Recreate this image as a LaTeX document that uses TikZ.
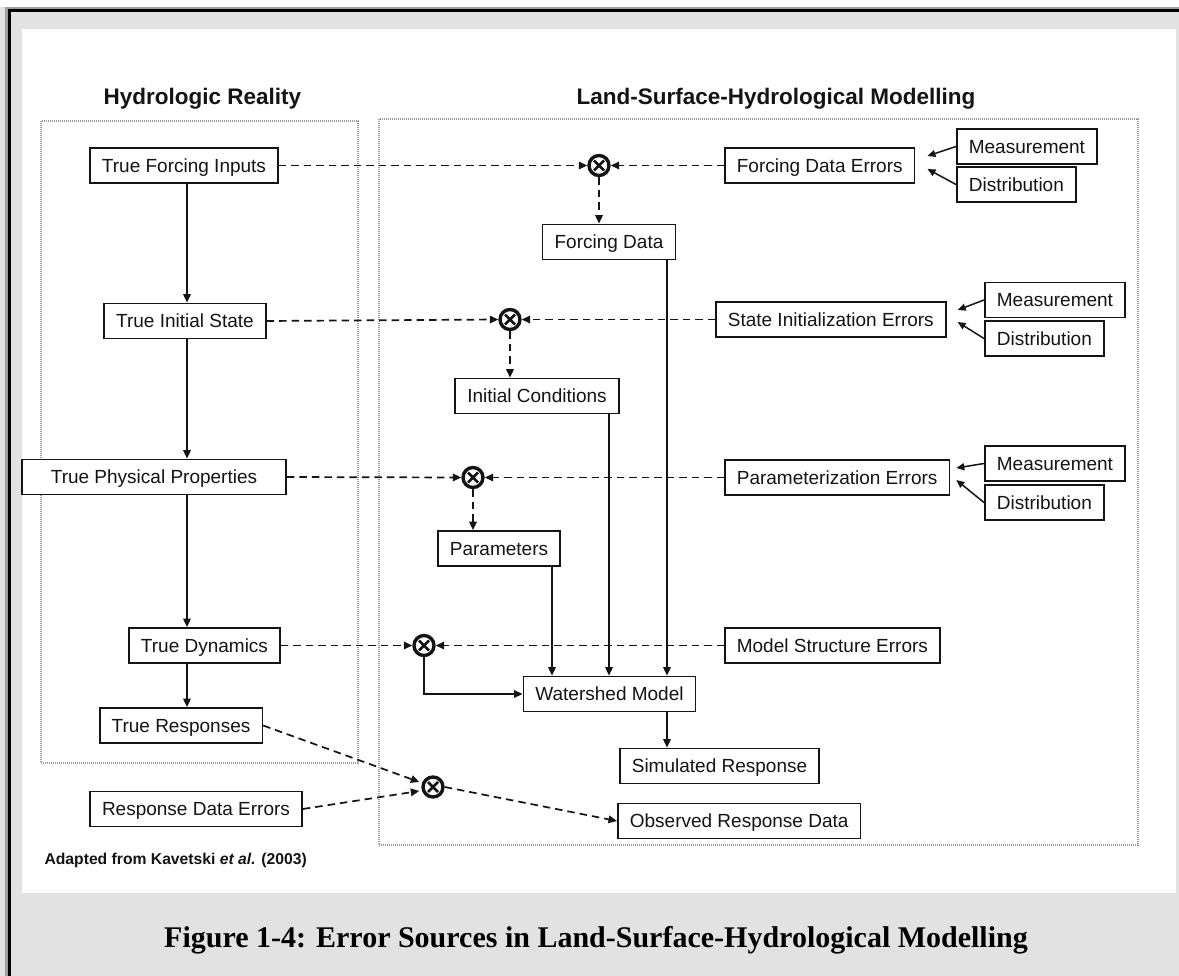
\documentclass[tikz,border=0pt]{standalone}
\usepackage{fontspec}
\setmainfont{Liberation Sans}
\newfontfamily\capfont{Liberation Serif}
\usetikzlibrary{arrows.meta,calc}
\definecolor{bggray}{HTML}{E2E2E2}
\definecolor{ink}{HTML}{141414}
\definecolor{framegray}{HTML}{9A9A9A}
\begin{document}
\begin{tikzpicture}[x=1pt,y=-1pt,
  box/.style={draw=ink, line width=1.7pt, fill=white, font=\fontsize{19}{22}\selectfont, text=ink,
    inner xsep=12pt, inner ysep=0pt, minimum height=35pt, text height=13.6pt, text depth=0pt},
  xcirc/.style={circle, draw=ink, line width=3.4pt, minimum size=20pt, inner sep=0pt, fill=white},
  tip/.style={-{Triangle[length=8.5pt,width=7.5pt]}},
  dline/.style={draw=ink, line width=1.7pt, dash pattern=on 7.5pt off 5pt, tip},
  sline/.style={draw=ink, line width=1.7pt, tip},
  mline/.style={draw=ink, line width=1.5pt, -{Triangle[length=8pt,width=7pt]}},
  region/.style={draw=framegray, line width=1.1pt, dash pattern=on 1pt off 1pt},
  title/.style={font=\bfseries\fontsize{22.5}{26}\selectfont, text=ink}
]
\useasboundingbox (0,0) rectangle (1179,976);
% page background and frame
\fill[bggray] (0,0) rectangle (1179,976);
\fill[white] (0,0) rectangle (1179,7);
\fill[gray!75] (5,7) rectangle (1179,9);
\fill[black] (8,9) rectangle (1179,12);
\fill[gray!75] (5,7) rectangle (8,976);
\fill[black] (8,9) rectangle (11,976);
\fill[white] (22,29) rectangle (1176,893);

% titles
\node[title, anchor=base west] (t1) at (100,105) {Hydrologic Reality};
\node[title, anchor=base west] (t2) at (573,105) {Land-Surface-Hydrological Modelling};

% regions
\draw[region] (41,121) rectangle (358,763);
\draw[region] (379,119) rectangle (1138,845);

% left column
\node[box] (tfi) at (184,165.5) {True Forcing Inputs};
\node[box] (tis) at (185,321) {True Initial State};
\node[box, minimum width=264pt] (tpp) at (154,477) {True Physical Properties};
\node[box] (tdy) at (204.5,645.5) {True Dynamics};
\node[box] (tre) at (181,725.5) {True Responses};
\node[box] (rde) at (196,809) {Response Data Errors};

% error sources
\node[box, anchor=west] (fde) at (724,165.5) {Forcing Data Errors};
\node[box, anchor=west] (sie) at (715,319.5) {State Initialization Errors};
\node[box, anchor=west] (pe) at (724,477.5) {Parameterization Errors};
\node[box, anchor=west] (mse) at (724,645.5) {Model Structure Errors};

\node[box, anchor=west] (m1) at (956,146.5) {Measurement};
\node[box, anchor=west] (d1) at (956,184.5) {Distribution};
\node[box, anchor=west] (m2) at (984,300) {Measurement};
\node[box, anchor=west] (d2) at (984,338.5) {Distribution};
\node[box, anchor=west] (m3) at (984,463.5) {Measurement};
\node[box, anchor=west] (d3) at (984,502.5) {Distribution};

% model nodes
\node[box] (fd) at (609,242) {Forcing Data};
\node[box] (ic) at (537,396) {Initial Conditions};
\node[box] (par) at (499,548.5) {Parameters};
\node[box] (wm) at (609.5,694) {Watershed Model};
\node[box, anchor=west] (sr) at (619,766) {Simulated Response};
\node[box, anchor=west] (ord) at (617,821) {Observed Response Data};

% combination symbols
\node[xcirc] (c1) at (599,165.5) {};
\node[xcirc] (c2) at (510,319.5) {};
\node[xcirc] (c3) at (473,477.5) {};
\node[xcirc] (c4) at (424,645.5) {};
\node[xcirc] (c5) at (433,787) {};
\foreach \c in {c1,c2,c3,c4,c5}{
  \draw[ink, line width=2.8pt] ($(\c.center)+(-5,-5)$) -- ($(\c.center)+(5,5)$)
                                ($(\c.center)+(5,-5)$) -- ($(\c.center)+(-5,5)$);
}

% column x positions
\coordinate (colx) at (187,0);
\coordinate (xa) at (552,0);
\coordinate (xb) at (609,0);
\coordinate (xc) at (667,0);

% left column arrows
\draw[sline] (tfi.south -| colx) -- (tis.north -| colx);
\draw[sline] (tis.south -| colx) -- (tpp.north -| colx);
\draw[sline] (tpp.south -| colx) -- (tdy.north -| colx);
\draw[sline] (tdy.south -| colx) -- (tre.north -| colx);

% row 1
\draw[dline] (tfi.east) -- (c1.west);
\draw[dline] (fde.west) -- (c1.east);
\draw[dline] (c1.south) -- (c1.south |- fd.north);
\draw[mline] (m1.west) -- ($(fde.east)+(12,-9.5)$);
\draw[mline] (d1.west) -- ($(fde.east)+(12,3.5)$);

% row 2
\draw[dline] (tis.east) -- (c2.west);
\draw[dline] (sie.west) -- (c2.east);
\draw[dline] (c2.south) -- (c2.south |- ic.north);
\draw[mline] (m2.west) -- ($(sie.east)+(11,-9.5)$);
\draw[mline] (d2.west) -- ($(sie.east)+(11,2.5)$);

% row 3
\draw[dline] (tpp.east) -- (c3.west);
\draw[dline] (pe.west) -- (c3.east);
\draw[dline] (c3.south) -- (c3.south |- par.north);
\draw[mline] (m3.west) -- ($(pe.east)+(6,-9.5)$);
\draw[mline] (d3.west) -- ($(pe.east)+(6,2.5)$);

% row 4
\draw[dline] (tdy.east) -- (c4.west);
\draw[dline] (mse.west) -- (c4.east);
\draw[sline] (c4.south) |- (wm.west);

% into the watershed model
\draw[sline] (fd.south -| xc) -- (wm.north -| xc);
\draw[sline] (ic.south -| xb) -- (wm.north -| xb);
\draw[sline] (par.south -| xa) -- (wm.north -| xa);
\draw[sline] (wm.south -| xc) -- (sr.north -| xc);

% observation
\draw[dline] (tre.east) -- ($(c5.west)+(-2,-5)$);
\draw[dline] (rde.east) -- ($(c5.west)+(-2,4)$);
\draw[dline] (c5.east) -- (ord.west);

% notes
\node[anchor=base west, font=\bfseries\fontsize{15.7}{18}\selectfont, text=ink] (src) at (41,864)
  {Adapted from Kavetski \textit{et al.} (2003)};
\node[anchor=base, font=\capfont\bfseries\fontsize{30}{34}\selectfont, text=black] (cap) at (596,947)
  {Figure 1-4: Error Sources in Land-Surface-Hydrological Modelling};
\end{tikzpicture}
\end{document}
